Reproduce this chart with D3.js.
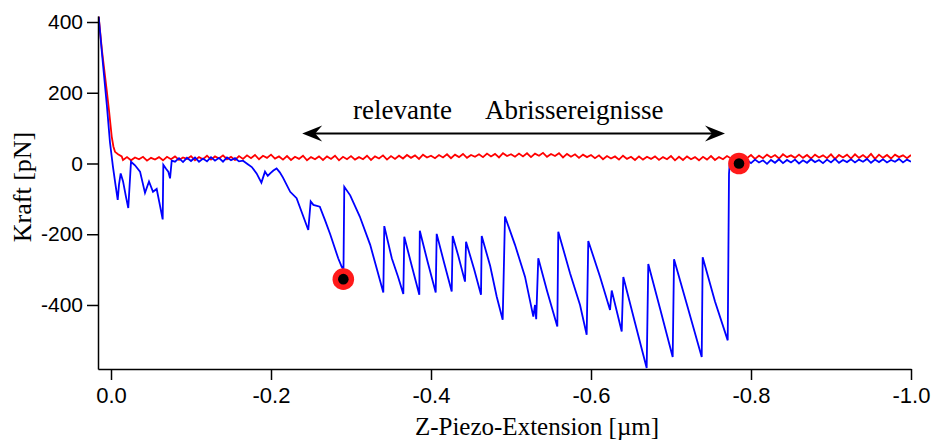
<!DOCTYPE html>
<html>
<head>
<meta charset="utf-8">
<script src="https://cdn.jsdelivr.net/npm/d3@7"></script>
<style>
  body { margin: 0; background: #fff; }
  svg { display: block; }
</style>
</head>
<body>
<script>
// Data (x in µm, force in pN)
var xTicks = [0, -0.2, -0.4, -0.6, -0.8, -1.0];
var yTicks = [400, 200, 0, -200, -400];

// retract curve (red)
var redCurve = [
  [0.0154,415],[0.0113,320],[0.0054,208],[0.0025,150],[-0.0009,76],[-0.003,48],[-0.005,33],[-0.0088,26],[-0.0134,20],
  [-0.015,10],[-0.020,18],[-0.025,9],[-0.030,17],[-0.035,12],[-0.040,19],[-0.045,8],[-0.050,16],[-0.055,11],[-0.060,18],
  [-0.065,9],[-0.070,19],[-0.075,12],[-0.080,20],[-0.085,10],[-0.090,17],[-0.095,13],[-0.100,21],[-0.105,9],[-0.110,18],
  [-0.115,12],[-0.120,22],[-0.125,11],[-0.130,20],[-0.135,14],[-0.140,23],[-0.145,12],[-0.150,19],[-0.155,10],[-0.160,21],
  [-0.165,13],[-0.170,23],[-0.175,15],[-0.180,24],[-0.185,12],[-0.190,22],[-0.195,16],[-0.200,25],[-0.205,14],[-0.210,20],
  [-0.215,11],[-0.220,21],[-0.225,10],[-0.230,19],[-0.235,13],[-0.240,22],[-0.245,9],[-0.250,18],[-0.255,12],[-0.260,20],
  [-0.265,10],[-0.270,20],[-0.275,13],[-0.280,22],[-0.285,9],[-0.290,19],[-0.295,12],[-0.300,21],[-0.305,11],[-0.310,18],
  [-0.315,12],[-0.320,22],[-0.325,10],[-0.330,20],[-0.335,14],[-0.340,23],[-0.345,11],[-0.350,21],[-0.355,13],[-0.360,22],
  [-0.365,14],[-0.370,24],[-0.375,16],[-0.380,23],[-0.385,13],[-0.390,25],[-0.395,17],[-0.400,22],[-0.405,15],[-0.410,24],
  [-0.415,17],[-0.420,26],[-0.425,15],[-0.430,25],[-0.435,18],[-0.440,27],[-0.445,16],[-0.450,24],[-0.455,19],[-0.460,26],
  [-0.465,18],[-0.470,28],[-0.475,20],[-0.480,27],[-0.485,17],[-0.490,29],[-0.495,21],[-0.500,26],[-0.505,19],[-0.510,28],
  [-0.515,20],[-0.520,29],[-0.525,18],[-0.530,28],[-0.535,22],[-0.540,30],[-0.545,19],[-0.550,27],[-0.555,21],[-0.560,29],
  [-0.565,17],[-0.570,27],[-0.575,19],[-0.580,26],[-0.585,16],[-0.590,25],[-0.595,18],[-0.600,24],[-0.605,15],[-0.610,23],
  [-0.615,12],[-0.620,21],[-0.625,14],[-0.630,20],[-0.635,11],[-0.640,22],[-0.645,13],[-0.650,19],[-0.655,10],[-0.660,20],
  [-0.665,11],[-0.670,19],[-0.675,13],[-0.680,20],[-0.685,10],[-0.690,18],[-0.695,12],[-0.700,21],[-0.705,9],[-0.710,19],
  [-0.715,10],[-0.720,20],[-0.725,12],[-0.730,18],[-0.735,9],[-0.740,19],[-0.745,11],[-0.750,21],[-0.755,10],[-0.760,18],
  [-0.765,12],[-0.770,21],[-0.775,14],[-0.780,22],[-0.785,11],[-0.790,23],[-0.795,15],[-0.800,24],[-0.805,13],[-0.810,22],
  [-0.815,15],[-0.820,25],[-0.825,17],[-0.830,24],[-0.835,14],[-0.840,26],[-0.845,18],[-0.850,23],[-0.855,16],[-0.860,25],
  [-0.865,16],[-0.870,24],[-0.875,14],[-0.880,25],[-0.885,17],[-0.890,23],[-0.895,15],[-0.900,26],[-0.905,13],[-0.910,24],
  [-0.915,17],[-0.920,25],[-0.925,14],[-0.930,26],[-0.935,16],[-0.940,24],[-0.945,15],[-0.950,27],[-0.955,13],[-0.960,25],
  [-0.965,16],[-0.970,24],[-0.975,14],[-0.980,25],[-0.985,18],[-0.990,23],[-0.995,15],[-1.000,24]
];

// approach / unfolding curve (blue)
var blueCurve = [
  [0.0154,415],[0.010,280],[0.005,160],[0.0013,60],[-0.0025,-10],[-0.0056,-60],[-0.0084,-103],[-0.010,-60],[-0.0121,-28],
  [-0.015,-50],[-0.0188,-95],[-0.0216,-126],[-0.025,5],[-0.030,-5],[-0.0363,-23],[-0.0425,-83],[-0.0475,-51],[-0.0525,-80],
  [-0.0571,-72],[-0.0613,-120],[-0.0646,-158],[-0.0654,-4],[-0.0688,-15],[-0.0716,-23],[-0.0738,-42],[-0.0759,8],
  [-0.080,5],[-0.085,15],[-0.090,4],[-0.095,16],[-0.100,7],[-0.105,17],[-0.110,5],[-0.115,14],[-0.120,6],[-0.125,18],
  [-0.130,8],[-0.135,16],[-0.140,5],[-0.145,17],[-0.150,9],[-0.155,15],[-0.160,6],[-0.165,8],[-0.171,-2],[-0.176,-10],
  [-0.182,-28],[-0.188,-54],[-0.1925,-23],[-0.196,-35],[-0.199,-28],[-0.203,-20],[-0.207,-14],[-0.211,-25],[-0.215,-40],
  [-0.224,-80],[-0.232,-98],[-0.2388,-140],[-0.2466,-188],[-0.2496,-107],[-0.253,-117],[-0.261,-122],[-0.2675,-160],
  [-0.274,-200],[-0.284,-268],[-0.2884,-292],[-0.2906,-300],[-0.2916,-66],[-0.299,-90],[-0.311,-150],[-0.324,-230],
  [-0.3325,-300],[-0.3404,-365],[-0.3416,-177],[-0.351,-268],[-0.3588,-320],[-0.3654,-369],[-0.3666,-207],[-0.376,-290],
  [-0.3854,-371],[-0.386,-190],[-0.396,-280],[-0.4059,-365],[-0.4071,-199],[-0.4163,-280],[-0.4259,-362],[-0.4271,-205],
  [-0.434,-260],[-0.4425,-334],[-0.4438,-221],[-0.454,-300],[-0.4625,-371],[-0.4634,-205],[-0.474,-290],[-0.4821,-376],
  [-0.4896,-442],[-0.4925,-150],[-0.505,-230],[-0.5175,-320],[-0.5279,-433],[-0.530,-400],[-0.5315,-440],[-0.5341,-268],
  [-0.545,-360],[-0.5579,-461],[-0.5591,-193],[-0.5738,-310],[-0.5863,-400],[-0.5946,-484],[-0.5966,-219],[-0.6113,-320],
  [-0.6238,-414],[-0.6259,-359],[-0.6384,-475],[-0.6404,-321],[-0.655,-450],[-0.6696,-578],[-0.6716,-284],[-0.6863,-410],
  [-0.7021,-547],[-0.7038,-271],[-0.7213,-410],[-0.7384,-547],[-0.7396,-265],[-0.755,-390],[-0.7709,-500],[-0.7725,-30],
  [-0.7735,4],[-0.777,8],[-0.781,1],[-0.785,9],
  [-0.790,0],[-0.795,10],[-0.800,1],[-0.805,11],[-0.810,3],[-0.815,9],[-0.820,-1],[-0.825,10],[-0.830,2],[-0.835,12],
  [-0.840,1],[-0.845,10],[-0.850,3],[-0.855,11],[-0.860,0],[-0.865,9],[-0.870,2],[-0.875,12],[-0.880,4],[-0.885,10],
  [-0.890,1],[-0.895,11],[-0.900,3],[-0.905,13],[-0.910,2],[-0.915,10],[-0.920,4],[-0.925,12],[-0.930,3],[-0.935,11],
  [-0.940,5],[-0.945,13],[-0.950,2],[-0.955,11],[-0.960,4],[-0.965,12],[-0.970,3],[-0.975,10],[-0.980,5],[-0.985,13],
  [-0.990,3],[-0.995,11],[-1.000,5]
];

// the two marked rupture events
var markerExt = [-0.2904, -0.785];
var markerForce = [-327, 0];

// annotation arrow (spans the relevant events)
var arrowExt = [-0.239, -0.7675];
var arrowForce = 85;

//Generate SVG
var width = 931,
  height = 441;
var margin = {
  top: 16,
  bottom: 72,
  left: 98,
  right: 20
};

var svg = d3.select('body')
  .append('svg')
  .attr('width', width)
  .attr('height', height)
  .style('background', '#fff');

// Define Scales
var xScale = d3.scaleLinear()
  .domain([0.01625, -1.0])
  .range([margin.left, width - margin.right]);

var yScale = d3.scaleLinear()
  .domain([-581, 417])
  .range([height - margin.bottom, margin.top]);

svg.append('clipPath').attr('id', 'plot')
  .append('rect')
  .attr('x', margin.left)
  .attr('y', margin.top)
  .attr('width', width - margin.left - margin.right)
  .attr('height', height - margin.top - margin.bottom);

//Draw curves
var line = d3.line()
  .x(function(d) { return xScale(d[0]); })
  .y(function(d) { return yScale(d[1]); });

var curves = svg.append('g').attr('clip-path', 'url(#plot)');

curves.append('path')
  .datum(redCurve)
  .attr('d', line)
  .attr('fill', 'none')
  .attr('stroke', '#ff0000')
  .attr('stroke-width', 1.8);

curves.append('path')
  .datum(blueCurve)
  .attr('d', line)
  .attr('fill', 'none')
  .attr('stroke', '#0000ff')
  .attr('stroke-width', 1.8);

//Markers
var markers = svg.append('g');
markerExt.forEach(function(m, i) {
  markers.append('circle')
    .attr('cx', xScale(m))
    .attr('cy', yScale(markerForce[i]))
    .attr('r', 10.8)
    .attr('fill', '#ff1a1a');
  markers.append('circle')
    .attr('cx', xScale(m))
    .attr('cy', yScale(markerForce[i]))
    .attr('r', 5.3)
    .attr('fill', '#000');
});

//Draw Axes
var yAxis = svg.append('g')
  .attr('transform', `translate(${margin.left},0)`)
  .call(d3.axisLeft(yScale).tickValues(yTicks).tickSize(11).tickSizeOuter(0).tickPadding(4)
    .tickFormat(function(d) { return String(d); }));

var xAxis = svg.append('g')
  .attr('transform', `translate(0,${height - margin.bottom})`)
  .call(d3.axisBottom(xScale).tickValues(xTicks).tickSize(11).tickSizeOuter(0).tickPadding(7)
    .tickFormat(function(d) { return d.toFixed(1); }));

svg.selectAll('.domain, .tick line')
  .attr('stroke', '#000')
  .attr('stroke-width', 1.5);

yAxis.selectAll('.tick text')
  .attr('fill', '#000')
  .style('font-family', '"Liberation Sans", Arial, sans-serif')
  .style('font-size', '21px');

xAxis.selectAll('.tick text')
  .attr('fill', '#000')
  .style('font-family', '"Liberation Sans Narrow", "Arial Narrow", "Liberation Sans", sans-serif')
  .style('font-size', '22px');

//Axis titles
svg.append('text')
  .attr('x', 537)
  .attr('y', 435)
  .attr('text-anchor', 'middle')
  .style('font-family', '"Liberation Serif", "Times New Roman", serif')
  .style('font-size', '25px')
  .text('Z-Piezo-Extension [µm]');

svg.append('text')
  .attr('transform', 'translate(31,187) rotate(-90)')
  .attr('text-anchor', 'middle')
  .style('font-family', '"Liberation Serif", "Times New Roman", serif')
  .style('font-size', '26px')
  .text('Kraft [pN]');

//Annotation
var ay = yScale(arrowForce);
var ax0 = xScale(arrowExt[0]), ax1 = xScale(arrowExt[1]);
svg.append('line')
  .attr('x1', ax0 + 6).attr('x2', ax1 - 6)
  .attr('y1', ay).attr('y2', ay)
  .attr('stroke', '#000')
  .attr('stroke-width', 2);

svg.append('path')
  .attr('d', `M${ax0},${ay} L${ax0 + 20},${ay - 8} L${ax0 + 13},${ay} L${ax0 + 20},${ay + 8} Z`)
  .attr('fill', '#000');
svg.append('path')
  .attr('d', `M${ax1},${ay} L${ax1 - 20},${ay - 8} L${ax1 - 13},${ay} L${ax1 - 20},${ay + 8} Z`)
  .attr('fill', '#000');

svg.append('text')
  .attr('x', 353)
  .attr('y', 119)
  .style('font-family', '"Liberation Serif", "Times New Roman", serif')
  .style('font-size', '27px')
  .text('relevante');

svg.append('text')
  .attr('x', 485)
  .attr('y', 119)
  .style('font-family', '"Liberation Serif", "Times New Roman", serif')
  .style('font-size', '27px')
  .text('Abrissereignisse');
</script>
</body>
</html>
